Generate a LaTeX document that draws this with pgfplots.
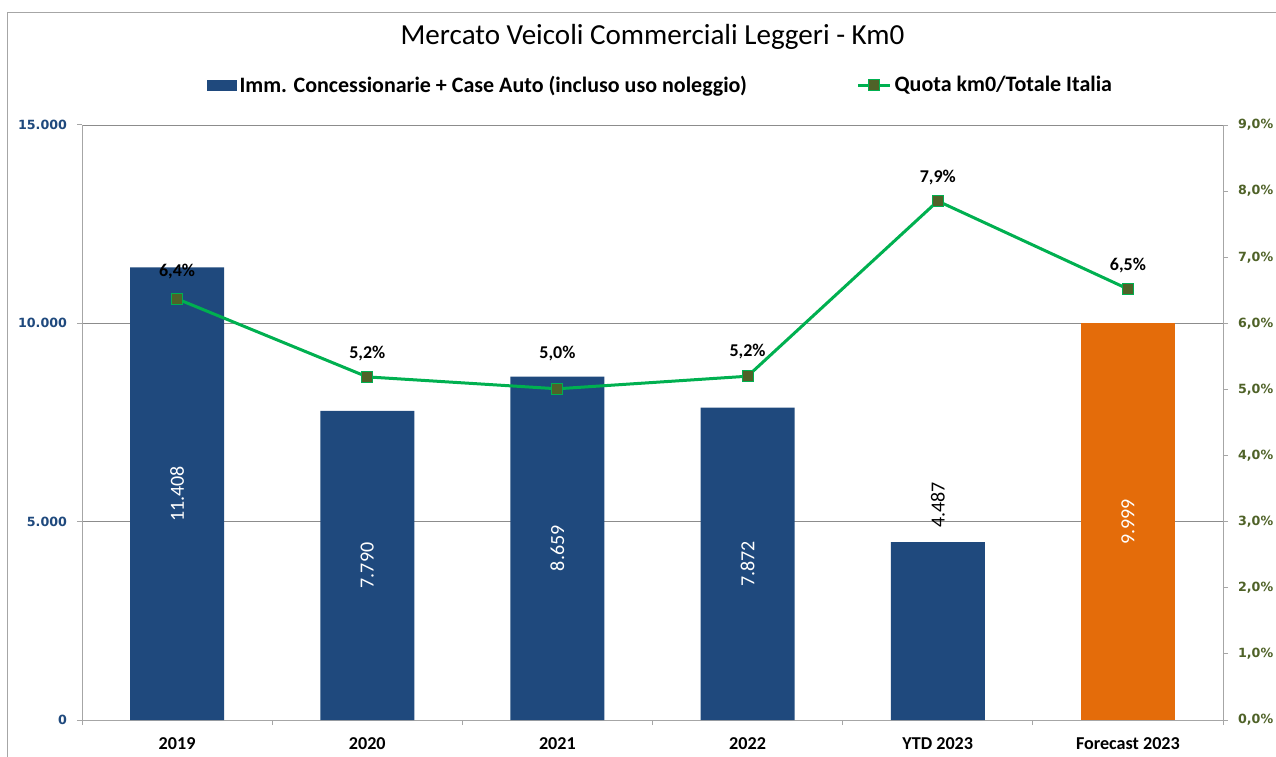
\documentclass[border=0pt]{standalone}
\usepackage{pgfplots}
\pgfplotsset{compat=1.18}
\usepackage{fontspec}
\setmainfont{Carlito}
\newfontfamily\tickfont{DejaVu Sans}
\definecolor{barblue}{HTML}{1F497D}
\definecolor{barorange}{HTML}{E46C0A}
\definecolor{linegreen}{HTML}{00B050}
\definecolor{markolive}{HTML}{4F6228}
\definecolor{axisgray}{HTML}{A6A6A6}
\definecolor{gridgray}{HTML}{8C8C8C}
\pgfplotsset{linelegend/.style={legend image code/.code={\draw[mark repeat=2,mark phase=2,##1] plot coordinates {(0pt,0pt) (12pt,0pt) (24pt,0pt)};}}}
\begin{document}
\begin{tikzpicture}
\useasboundingbox (0,0) rectangle (957pt,567pt);
\draw[axisgray, line width=0.75pt] (5.25pt,-20pt) -- (5.25pt,557.25pt) -- (990pt,557.25pt);
\begin{axis}[
  at={(61.5pt,27pt)}, anchor=south west,
  width=855.75pt, height=446.25pt, scale only axis,
  xmin=-0.5, xmax=5.5, ymin=0, ymax=15000,
  axis x line*=bottom, axis y line*=left,
  axis line style={axisgray, line width=0.75pt},
  ytick={0,5000,10000,15000},
  scaled y ticks=false,
  yticklabel={\pgfmathprintnumber[fixed, precision=0, 1000 sep={.}]{\tick}},
  ymajorgrids, grid style={gridgray, line width=0.6pt},
  xtick={-0.5,0.5,...,5.5},
  x tick label as interval,
  xticklabels={2019,2020,2021,2022,YTD 2023,Forecast 2023},
  tick align=outside, major tick length=3.75pt,
  tick style={axisgray, line width=0.75pt},
  xticklabel style={font=\fontsize{13.6}{16}\selectfont\bfseries, text=black, yshift=-6pt},
  yticklabel style={font=\tickfont\fontsize{9.5}{11}\selectfont\bfseries, text=barblue, xshift=-4pt},
  /pgf/number format/assume math mode=true,
  clip=false,
  title={Mercato Veicoli Commerciali Leggeri - Km0},
  title style={font=\fontsize{21.8}{25}\selectfont, at={(0.5,1)}, anchor=center, yshift=60pt},
]
\addplot[ybar, bar width=70.5pt, fill=barblue, draw=none] coordinates {(0,11408) (1,7790) (2,8659) (3,7872) (4,4487)};
\addplot[ybar, bar width=70.5pt, fill=barorange, draw=none] coordinates {(5,9999)};
\addplot[draw=none, mark=none, nodes near coords, point meta=explicit symbolic,
  nodes near coords style={rotate=90, anchor=center, text=white, font=\fontsize{15}{17}\selectfont}]
  coordinates {(0,5704)[11.408] (1,3895)[7.790] (2,4329.5)[8.659] (3,3936)[7.872] (5,4999.5)[9.999]};
\addplot[draw=none, mark=none, nodes near coords, point meta=explicit symbolic,
  nodes near coords style={rotate=90, anchor=center, text=black, font=\fontsize{15}{17}\selectfont}]
  coordinates {(4,5420)[4.487]};
\end{axis}
\begin{axis}[
  at={(61.5pt,27pt)}, anchor=south west,
  width=855.75pt, height=446.25pt, scale only axis,
  xmin=-0.5, xmax=5.5, ymin=0, ymax=9,
  axis y line*=right, axis x line=none,
  axis line style={axisgray, line width=0.75pt},
  ytick={0,1,...,9},
  tick align=outside, major tick length=3.75pt,
  tick style={axisgray, line width=0.75pt},
  yticklabel={\pgfmathprintnumber[fixed, fixed zerofill, precision=1, use comma]{\tick}\%},
  yticklabel style={font=\tickfont\fontsize{9.5}{11}\selectfont\bfseries, text=markolive, xshift=4pt},
  /pgf/number format/assume math mode=true,
  clip=false,
  legend columns=2,
  legend style={at={(0.5,1)}, anchor=center, yshift=30pt, xshift=6.25pt, draw=none, fill=none,
    font=\fontsize{16.5}{19}\selectfont\bfseries,
    /tikz/column 2/.style={column sep=80.5pt}},
]
\addlegendimage{legend image code/.code={\fill[barblue] (0pt,-3.75pt) rectangle (22pt,3.75pt);}}
\addlegendentry{Imm. Concessionarie + Case Auto (incluso uso noleggio)}
\addplot[linegreen, line width=2.25pt, mark=square*, mark size=4.1pt,
  mark options={fill=markolive, draw=linegreen, line width=0.75pt},
  linelegend]
  coordinates {(0,6.37) (1,5.19) (2,5.01) (3,5.2) (4,7.85) (5,6.52)};
\addlegendentry{Quota km0/Totale Italia}
\addplot[draw=none, mark=none, forget plot, nodes near coords, point meta=explicit symbolic,
  nodes near coords style={anchor=center, text=black, font=\fontsize{13.5}{16}\selectfont\bfseries}]
  coordinates {(0,6.79)[6,4\%] (1,5.55)[5,2\%] (2,5.54)[5,0\%] (3,5.57)[5,2\%] (4,8.20)[7,9\%] (5,6.87)[6,5\%]};
\end{axis}
\end{tikzpicture}
\end{document}
